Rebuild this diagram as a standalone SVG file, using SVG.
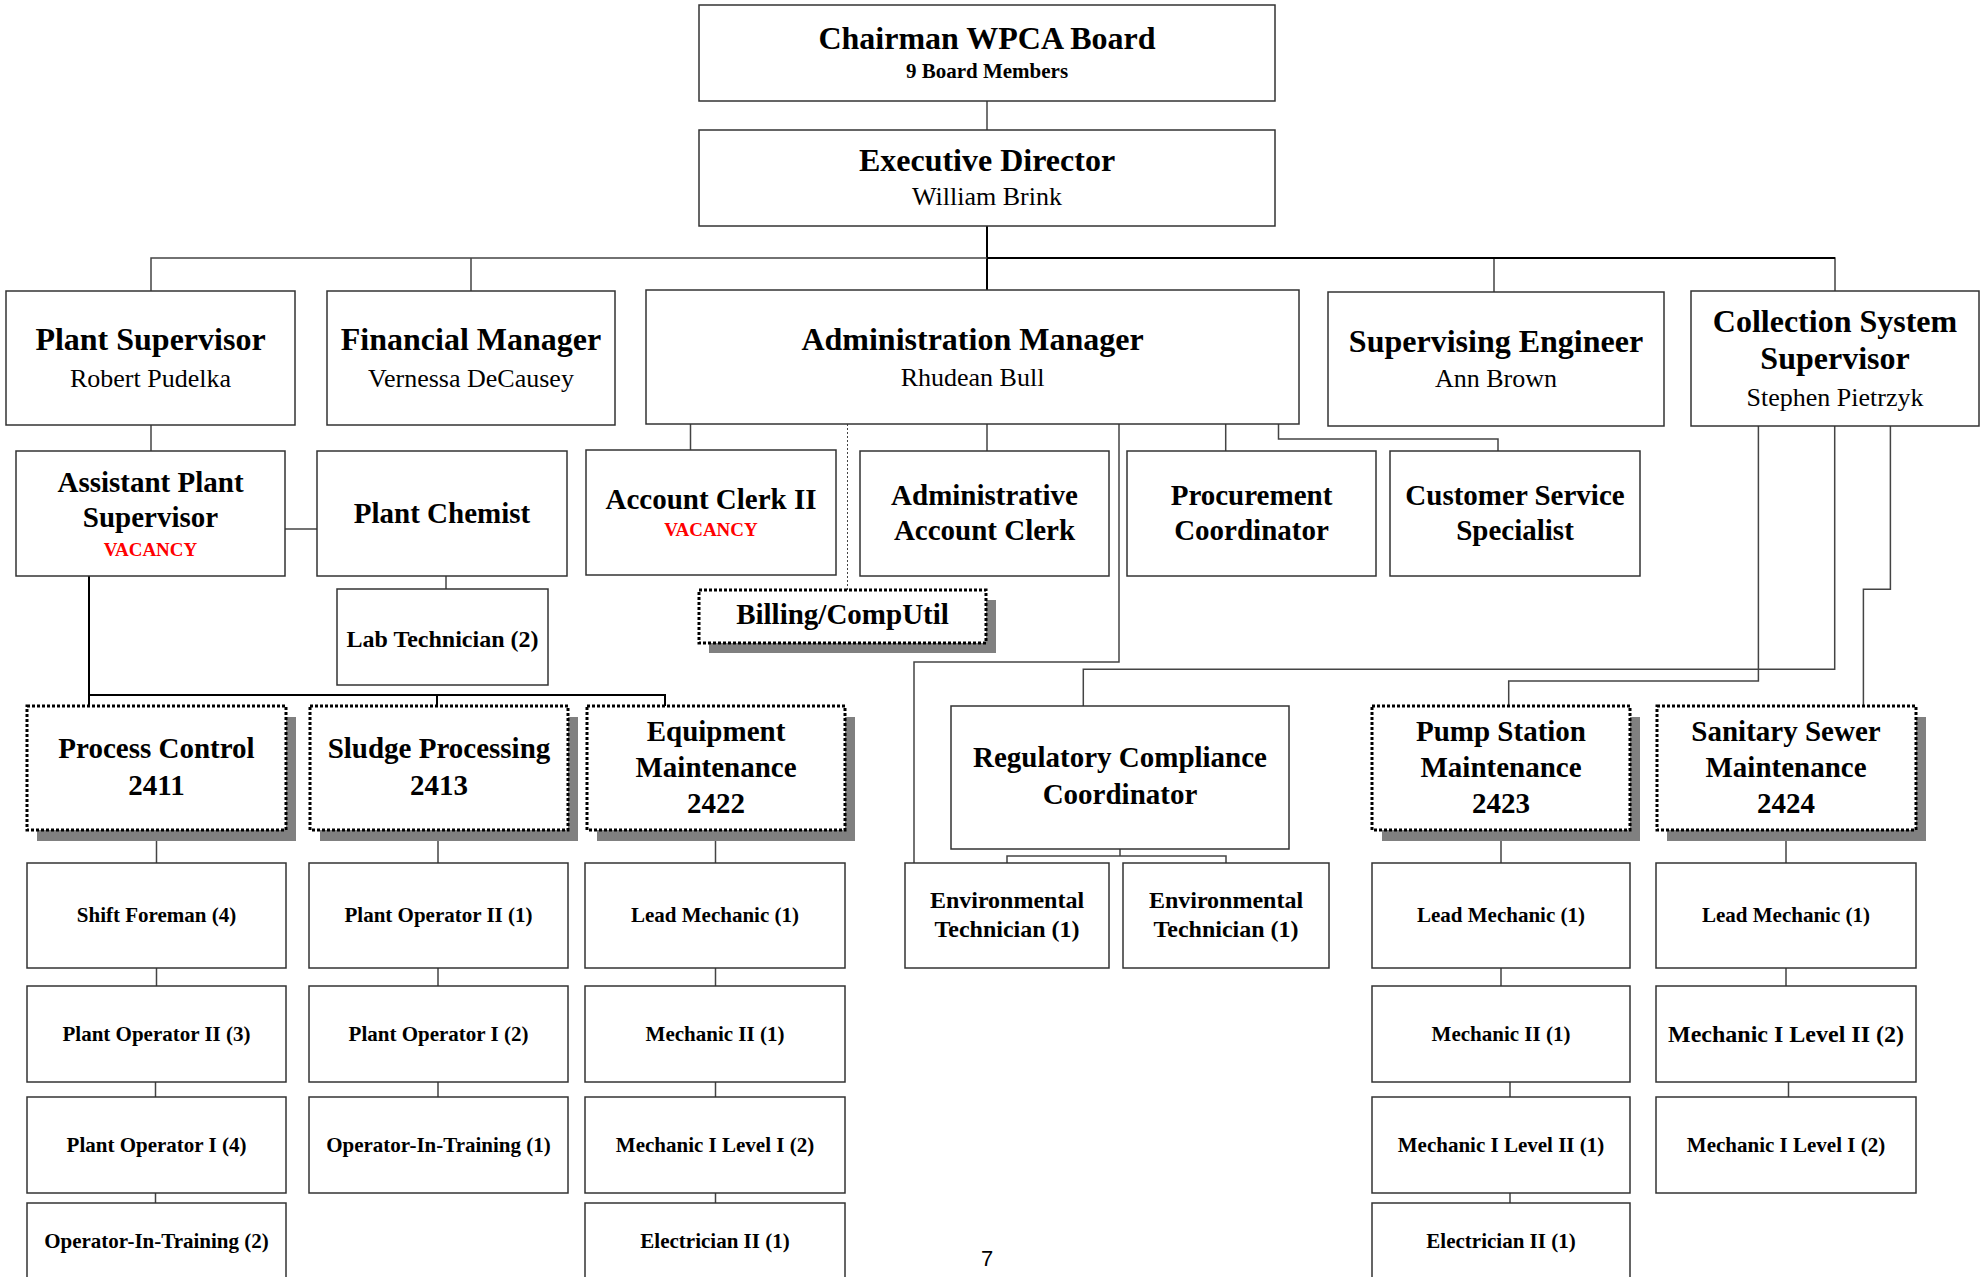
<svg xmlns="http://www.w3.org/2000/svg" width="1986" height="1277" viewBox="0 0 1986 1277">
<style>
.box{fill:#fff;stroke:#333;stroke-width:1.5}
.dbox{fill:#fff;stroke:#000;stroke-width:3;stroke-dasharray:3 2}
.sh{fill:#808080}
.ln{fill:none;stroke:#444;stroke-width:1.5}
.lk{fill:none;stroke:#000;stroke-width:2}
.dot{fill:none;stroke:#444;stroke-width:1;stroke-dasharray:2 2}
text{font-family:"Liberation Serif","Times New Roman",serif;text-anchor:middle;fill:#000}
.t32{font-size:32px;font-weight:bold}
.n26{font-size:26px}
.t29{font-size:29px;font-weight:bold}
.t24{font-size:24px;font-weight:bold}
.t21{font-size:21px;font-weight:bold}
.vac{font-size:19px;font-weight:bold;fill:#f00}
.pg{font-family:"Liberation Sans",Arial,sans-serif;font-size:22px}
</style>
<g id="connectors">
<path class="ln" d="M987 101V130"/>
<path class="lk" d="M987 226V290"/>
<path class="ln" d="M151 291V258H1835V291M471 258V291M1494 258V292"/>
<path class="lk" d="M987 258H1835"/>
<path class="ln" d="M151 425V451"/>
<path class="ln" d="M285 529H317"/>
<path class="ln" d="M690.5 424V450M987 424V451M1225.7 424V451M1278.5 424V439H1498V451"/>
<path class="dot" d="M847.5 424V590"/>
<path class="ln" d="M1119 424V662H914V863"/>
<path class="ln" d="M446 576V589"/>
<path class="lk" d="M89 576V695H665V706M89 695V706M437 695V706"/>
<path class="ln" d="M156.5 830V863M156.5 968V986M155.5 1082V1097M155.5 1193V1203"/>
<path class="ln" d="M438 830V863M438 968V986M438 1082V1097"/>
<path class="ln" d="M715.5 830V863M715.5 968V986M715.5 1082V1097M715.5 1193V1203"/>
<path class="ln" d="M1758.4 426V681H1508.7V706"/>
<path class="ln" d="M1834.7 426V669.3H1083.3V706"/>
<path class="ln" d="M1890.4 426V589.3H1863.4V706"/>
<path class="ln" d="M1120 849V856M1007 863V856H1226V863"/>
<path class="ln" d="M1501 830V863M1501 968V986M1510 1082V1097M1510 1193V1203"/>
<path class="ln" d="M1786 830V863M1786 968V986M1788.5 1082V1097"/>
</g>
<g id="chairman"><rect class="box" x="699" y="5" width="576" height="96"/><text class="t32" x="987" y="49">Chairman WPCA Board</text><text class="t21" x="987" y="78">9 Board Members</text></g>
<g id="exec"><rect class="box" x="699" y="130" width="576" height="96"/><text class="t32" x="987" y="171">Executive Director</text><text class="n26" x="987" y="205">William Brink</text></g>
<g id="plant-sup"><rect class="box" x="6" y="291" width="289" height="134"/><text class="t32" x="150.5" y="350">Plant Supervisor</text><text class="n26" x="150.5" y="387">Robert Pudelka</text></g>
<g id="fin-mgr"><rect class="box" x="327" y="291" width="288" height="134"/><text class="t32" x="471" y="350">Financial Manager</text><text class="n26" x="471" y="387">Vernessa DeCausey</text></g>
<g id="admin-mgr"><rect class="box" x="646" y="290" width="653" height="134"/><text class="t32" x="972.5" y="350">Administration Manager</text><text class="n26" x="972.5" y="386">Rhudean Bull</text></g>
<g id="sup-eng"><rect class="box" x="1328" y="292" width="336" height="134"/><text class="t32" x="1496" y="352">Supervising Engineer</text><text class="n26" x="1496" y="387">Ann Brown</text></g>
<g id="coll-sup"><rect class="box" x="1691" y="291" width="288" height="135"/><text class="t32" x="1835" y="332">Collection System</text><text class="t32" x="1835" y="369">Supervisor</text><text class="n26" x="1835" y="406">Stephen Pietrzyk</text></g>
<g id="asst-plant-sup"><rect class="box" x="16" y="451" width="269" height="125"/><text class="t29" x="150.5" y="492">Assistant Plant</text><text class="t29" x="150.5" y="527">Supervisor</text><text class="vac" x="150.5" y="556">VACANCY</text></g>
<g id="plant-chemist"><rect class="box" x="317" y="451" width="250" height="125"/><text class="t29" x="442" y="523">Plant Chemist</text></g>
<g id="account-clerk"><rect class="box" x="586" y="450" width="250" height="125"/><text class="t29" x="711" y="509">Account Clerk II</text><text class="vac" x="711" y="536">VACANCY</text></g>
<g id="admin-account-clerk"><rect class="box" x="860" y="451" width="249" height="125"/><text class="t29" x="984.5" y="505">Administrative</text><text class="t29" x="984.5" y="540">Account Clerk</text></g>
<g id="procurement"><rect class="box" x="1127" y="451" width="249" height="125"/><text class="t29" x="1251.5" y="505">Procurement</text><text class="t29" x="1251.5" y="540">Coordinator</text></g>
<g id="customer-service"><rect class="box" x="1390" y="451" width="250" height="125"/><text class="t29" x="1515" y="505">Customer Service</text><text class="t29" x="1515" y="540">Specialist</text></g>
<g id="lab-tech"><rect class="box" x="337" y="589" width="211" height="96"/><text class="t24" x="442.5" y="647">Lab Technician (2)</text></g>
<g id="billing"><rect class="sh" x="709" y="600" width="287" height="53"/><rect class="dbox" x="699" y="590" width="287" height="53"/><text class="t29" x="842.5" y="624">Billing/CompUtil</text></g>
<g id="process-control"><rect class="sh" x="37" y="717" width="259" height="124"/><rect class="dbox" x="27" y="706" width="259" height="124"/><text class="t29" x="156.5" y="758">Process Control</text><text class="t29" x="156.5" y="795">2411</text></g>
<g id="sludge"><rect class="sh" x="320" y="717" width="258" height="124"/><rect class="dbox" x="310" y="706" width="258" height="124"/><text class="t29" x="439" y="758">Sludge Processing</text><text class="t29" x="439" y="795">2413</text></g>
<g id="equipment"><rect class="sh" x="597" y="717" width="258" height="124"/><rect class="dbox" x="587" y="706" width="258" height="124"/><text class="t29" x="716" y="741">Equipment</text><text class="t29" x="716" y="777">Maintenance</text><text class="t29" x="716" y="813">2422</text></g>
<g id="reg-comp"><rect class="box" x="951" y="706" width="338" height="143"/><text class="t29" x="1120" y="767">Regulatory Compliance</text><text class="t29" x="1120" y="804">Coordinator</text></g>
<g id="pump-station"><rect class="sh" x="1382" y="717" width="258" height="124"/><rect class="dbox" x="1372" y="706" width="258" height="124"/><text class="t29" x="1501" y="741">Pump Station</text><text class="t29" x="1501" y="777">Maintenance</text><text class="t29" x="1501" y="813">2423</text></g>
<g id="sanitary-sewer"><rect class="sh" x="1667" y="717" width="259" height="124"/><rect class="dbox" x="1657" y="706" width="259" height="124"/><text class="t29" x="1786" y="741">Sanitary Sewer</text><text class="t29" x="1786" y="777">Maintenance</text><text class="t29" x="1786" y="813">2424</text></g>
<g id="c1r1"><rect class="box" x="27" y="863" width="259" height="105"/><text class="t21" x="156.5" y="922">Shift Foreman (4)</text></g>
<g id="c1r2"><rect class="box" x="27" y="986" width="259" height="96"/><text class="t21" x="156.5" y="1041">Plant Operator II (3)</text></g>
<g id="c1r3"><rect class="box" x="27" y="1097" width="259" height="96"/><text class="t21" x="156.5" y="1152">Plant Operator I (4)</text></g>
<g id="c1r4"><rect class="box" x="27" y="1203" width="259" height="96"/><text class="t21" x="156.5" y="1248">Operator-In-Training (2)</text></g>
<g id="c2r1"><rect class="box" x="309" y="863" width="259" height="105"/><text class="t21" x="438.5" y="922">Plant Operator II (1)</text></g>
<g id="c2r2"><rect class="box" x="309" y="986" width="259" height="96"/><text class="t21" x="438.5" y="1041">Plant Operator I (2)</text></g>
<g id="c2r3"><rect class="box" x="309" y="1097" width="259" height="96"/><text class="t21" x="438.5" y="1152">Operator-In-Training (1)</text></g>
<g id="c3r1"><rect class="box" x="585" y="863" width="260" height="105"/><text class="t21" x="715" y="922">Lead Mechanic (1)</text></g>
<g id="c3r2"><rect class="box" x="585" y="986" width="260" height="96"/><text class="t21" x="715" y="1041">Mechanic II (1)</text></g>
<g id="c3r3"><rect class="box" x="585" y="1097" width="260" height="96"/><text class="t21" x="715" y="1152">Mechanic I Level I (2)</text></g>
<g id="c3r4"><rect class="box" x="585" y="1203" width="260" height="96"/><text class="t21" x="715" y="1248">Electrician II (1)</text></g>
<g id="env-tech-1"><rect class="box" x="905" y="863" width="204" height="105"/><text class="t24" x="1007" y="908">Environmental</text><text class="t24" x="1007" y="937">Technician (1)</text></g>
<g id="env-tech-2"><rect class="box" x="1123" y="863" width="206" height="105"/><text class="t24" x="1226" y="908">Environmental</text><text class="t24" x="1226" y="937">Technician (1)</text></g>
<g id="p-r1"><rect class="box" x="1372" y="863" width="258" height="105"/><text class="t21" x="1501" y="922">Lead Mechanic (1)</text></g>
<g id="p-r2"><rect class="box" x="1372" y="986" width="258" height="96"/><text class="t21" x="1501" y="1041">Mechanic II (1)</text></g>
<g id="p-r3"><rect class="box" x="1372" y="1097" width="258" height="96"/><text class="t21" x="1501" y="1152">Mechanic I Level II (1)</text></g>
<g id="p-r4"><rect class="box" x="1372" y="1203" width="258" height="96"/><text class="t21" x="1501" y="1248">Electrician II (1)</text></g>
<g id="s-r1"><rect class="box" x="1656" y="863" width="260" height="105"/><text class="t21" x="1786" y="922">Lead Mechanic (1)</text></g>
<g id="s-r2"><rect class="box" x="1656" y="986" width="260" height="96"/><text class="t24" x="1786" y="1042">Mechanic I Level II (2)</text></g>
<g id="s-r3"><rect class="box" x="1656" y="1097" width="260" height="96"/><text class="t21" x="1786" y="1152">Mechanic I Level I (2)</text></g>
<text class="pg" x="987" y="1266">7</text>
</svg>
